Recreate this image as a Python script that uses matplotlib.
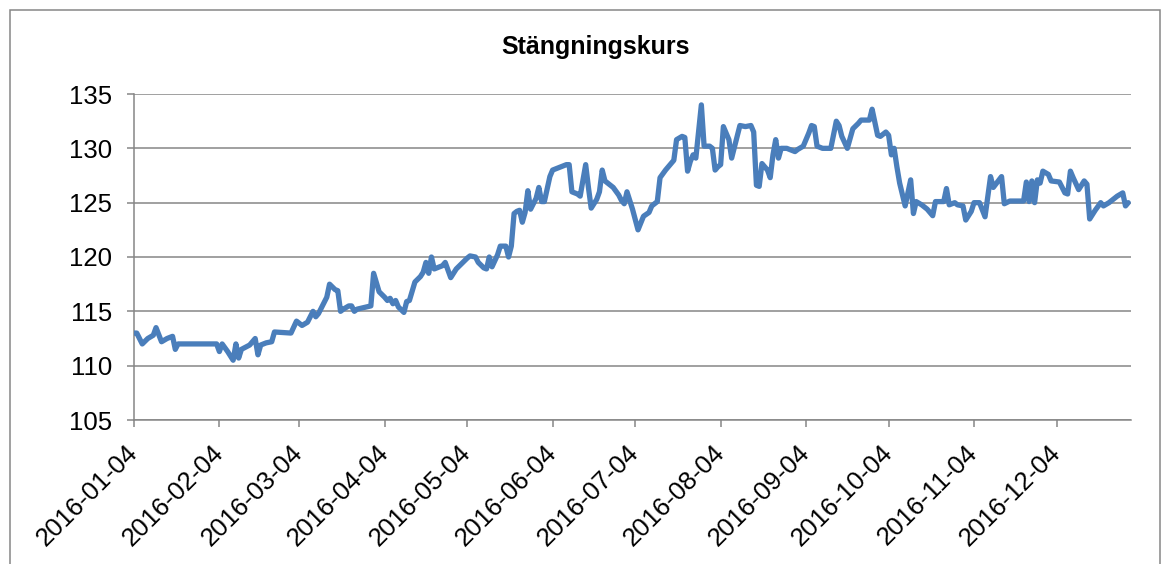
import matplotlib
matplotlib.use("Agg")
import matplotlib.pyplot as plt
import matplotlib.dates as mdates
from matplotlib.patches import Rectangle
import pandas as pd

title = "Stängningskurs"

dates = [
    "2016-01-04", "2016-01-05", "2016-01-07", "2016-01-09", "2016-01-11", "2016-01-12",
    "2016-01-14", "2016-01-16", "2016-01-18", "2016-01-19", "2016-01-20", "2016-02-03",
    "2016-02-04", "2016-02-05", "2016-02-07", "2016-02-09", "2016-02-10", "2016-02-11",
    "2016-02-12", "2016-02-15", "2016-02-17", "2016-02-18", "2016-02-19", "2016-02-21",
    "2016-02-23", "2016-02-24", "2016-03-01", "2016-03-03", "2016-03-05", "2016-03-07",
    "2016-03-09", "2016-03-10", "2016-03-11", "2016-03-14", "2016-03-15", "2016-03-17",
    "2016-03-18", "2016-03-19", "2016-03-20", "2016-03-22", "2016-03-23", "2016-03-24",
    "2016-03-25", "2016-03-30", "2016-03-31", "2016-04-02", "2016-04-04", "2016-04-05",
    "2016-04-06", "2016-04-07", "2016-04-08", "2016-04-09", "2016-04-11", "2016-04-12",
    "2016-04-13", "2016-04-15", "2016-04-17", "2016-04-18", "2016-04-19", "2016-04-20",
    "2016-04-21", "2016-04-22", "2016-04-25", "2016-04-26", "2016-04-28", "2016-04-30",
    "2016-05-02", "2016-05-04", "2016-05-05", "2016-05-07", "2016-05-08", "2016-05-10",
    "2016-05-11", "2016-05-12", "2016-05-13", "2016-05-15", "2016-05-16", "2016-05-18",
    "2016-05-19", "2016-05-20", "2016-05-21", "2016-05-22", "2016-05-23", "2016-05-24",
    "2016-05-25", "2016-05-26", "2016-05-27", "2016-05-29", "2016-05-30", "2016-05-31",
    "2016-06-01", "2016-06-03", "2016-06-04", "2016-06-07", "2016-06-09", "2016-06-10",
    "2016-06-11", "2016-06-13", "2016-06-14", "2016-06-16", "2016-06-17", "2016-06-18",
    "2016-06-20", "2016-06-21", "2016-06-22", "2016-06-23", "2016-06-26", "2016-06-28",
    "2016-06-29", "2016-06-30", "2016-07-01", "2016-07-03", "2016-07-05", "2016-07-07",
    "2016-07-09", "2016-07-10", "2016-07-12", "2016-07-13", "2016-07-15", "2016-07-16",
    "2016-07-18", "2016-07-19", "2016-07-21", "2016-07-22", "2016-07-23", "2016-07-24",
    "2016-07-25", "2016-07-26", "2016-07-28", "2016-07-29", "2016-07-31", "2016-08-01",
    "2016-08-02", "2016-08-03", "2016-08-04", "2016-08-05", "2016-08-07", "2016-08-08",
    "2016-08-11", "2016-08-13", "2016-08-15", "2016-08-16", "2016-08-17", "2016-08-18",
    "2016-08-19", "2016-08-21", "2016-08-22", "2016-08-23", "2016-08-24", "2016-08-25",
    "2016-08-26", "2016-08-28", "2016-08-29", "2016-08-31", "2016-09-01", "2016-09-03",
    "2016-09-05", "2016-09-06", "2016-09-07", "2016-09-08", "2016-09-10", "2016-09-13",
    "2016-09-15", "2016-09-16", "2016-09-17", "2016-09-19", "2016-09-21", "2016-09-23",
    "2016-09-24", "2016-09-27", "2016-09-28", "2016-09-30", "2016-10-01", "2016-10-03",
    "2016-10-04", "2016-10-05", "2016-10-06", "2016-10-07", "2016-10-08", "2016-10-10",
    "2016-10-12", "2016-10-13", "2016-10-14", "2016-10-16", "2016-10-18", "2016-10-20",
    "2016-10-21", "2016-10-24", "2016-10-25", "2016-10-26", "2016-10-28", "2016-10-29",
    "2016-10-31", "2016-11-01", "2016-11-03", "2016-11-04", "2016-11-06", "2016-11-08",
    "2016-11-10", "2016-11-11", "2016-11-14", "2016-11-15", "2016-11-17", "2016-11-22",
    "2016-11-23", "2016-11-24", "2016-11-25", "2016-11-26", "2016-11-27", "2016-11-28",
    "2016-11-29", "2016-12-01", "2016-12-02", "2016-12-05", "2016-12-07", "2016-12-08",
    "2016-12-09", "2016-12-10", "2016-12-12", "2016-12-14", "2016-12-15", "2016-12-16",
    "2016-12-18", "2016-12-20", "2016-12-21", "2016-12-23", "2016-12-26", "2016-12-28",
    "2016-12-29", "2016-12-30",
]

closing = [
    113.0, 113.0, 112.0, 112.5, 112.8, 113.5,
    112.2, 112.5, 112.7, 111.5, 112.0, 112.0,
    111.3, 112.0, 111.3, 110.5, 112.0, 110.7,
    111.5, 111.9, 112.5, 111.0, 111.9, 112.1,
    112.2, 113.1, 113.0, 114.1, 113.7, 114.0,
    115.0, 114.5, 114.8, 116.3, 117.5, 117.0,
    116.9, 115.0, 115.2, 115.5, 115.5, 115.0,
    115.2, 115.5, 118.5, 116.8, 116.3, 116.0,
    116.2, 115.7, 116.0, 115.4, 114.9, 115.9,
    116.0, 117.7, 118.2, 118.6, 119.5, 118.5,
    120.0, 118.9, 119.2, 119.5, 118.1, 118.9,
    119.4, 119.9, 120.1, 120.0, 119.5, 119.0,
    118.9, 120.0, 119.1, 120.2, 121.0, 121.0,
    120.0, 121.0, 124.0, 124.2, 124.3, 123.2,
    124.1, 126.1, 124.4, 125.4, 126.4, 125.1,
    125.1, 127.4, 128.0, 128.3, 128.5, 128.5,
    126.0, 125.8, 125.6, 128.5, 126.4, 124.5,
    125.3, 126.0, 128.0, 127.0, 126.4, 125.7,
    125.2, 124.9, 126.0, 124.4, 122.5, 123.75,
    124.1, 124.7, 125.1, 127.3, 128.0, 128.3,
    128.9, 130.8, 131.1, 131.0, 127.9, 128.8,
    129.4, 129.1, 134.0, 130.2, 130.2, 130.0,
    128.0, 128.3, 128.5, 132.0, 130.8, 129.1,
    132.1, 132.0, 132.1, 131.5, 126.6, 126.5,
    128.6, 128.0, 127.3, 129.4, 130.8, 129.1,
    130.0, 130.0, 129.9, 129.7, 129.9, 130.2,
    131.4, 132.1, 132.0, 130.2, 130.0, 130.0,
    132.5, 132.1, 131.1, 130.0, 131.8, 132.3,
    132.6, 132.6, 133.6, 131.2, 131.1, 131.5,
    131.2, 129.4, 130.0, 128.3, 126.8, 124.7,
    127.1, 124.0, 125.1, 124.8, 124.4, 123.8,
    125.1, 125.1, 126.3, 124.8, 125.0, 124.8,
    124.7, 123.4, 124.2, 125.0, 125.0, 123.7,
    127.4, 126.4, 127.4, 124.9, 125.15, 125.15,
    126.9, 125.1, 127.0, 125.0, 127.1, 126.8,
    127.9, 127.6, 127.0, 126.9, 125.9, 125.8,
    127.9, 127.3, 126.2, 127.0, 126.7, 123.5,
    124.3, 125.0, 124.7, 125.0, 125.6, 125.9,
    124.7, 125.0,
]

tick_dates = ["2016-01-04", "2016-02-04", "2016-03-04", "2016-04-04", "2016-05-04",
              "2016-06-04", "2016-07-04", "2016-08-04", "2016-09-04", "2016-10-04",
              "2016-11-04", "2016-12-04"]
y_ticks = [105, 110, 115, 120, 125, 130, 135]

plt.rcParams['font.family'] = ['Liberation Sans', 'DejaVu Sans']

W, H = 1170, 564
fig = plt.figure(figsize=(W / 100, H / 100), dpi=100)
fig.patch.set_facecolor('white')

# chart frame
frame = Rectangle((10 / W, -0.2), (1160 - 10) / W, (H - 10) / H + 0.2,
                  transform=fig.transFigure, fill=False, edgecolor='#868686',
                  linewidth=1.1, zorder=0)
fig.patches.append(frame)

ax = fig.add_axes([134 / W, 1 - 420 / H, (1131 - 134) / W, (420 - 94) / H])

x = pd.to_datetime(dates)
ax.plot(x, closing, color='#4A7EBB', linewidth=3.8, solid_joinstyle='round',
        solid_capstyle='round', zorder=3)

ax.set_xlim(pd.Timestamp("2016-01-04"), pd.Timestamp("2016-12-31"))
ax.set_ylim(105, 135)
ax.set_yticks(y_ticks)
ax.set_xticks(pd.to_datetime(tick_dates))
ax.xaxis.set_major_formatter(mdates.DateFormatter('%Y-%m-%d'))

ax.grid(axis='y', color='#868686', linewidth=1.1, zorder=1)
ax.set_axisbelow(True)
for s in ['top', 'right']:
    ax.spines[s].set_visible(False)
for s in ['left', 'bottom']:
    ax.spines[s].set_color('#868686')
    ax.spines[s].set_linewidth(1.1)

ax.tick_params(axis='both', colors='#868686', labelcolor='black', width=1.1,
               length=5, labelsize=18.5, direction='out')
ax.tick_params(axis='y', pad=11)
ax.tick_params(axis='x', pad=16)
for lbl in ax.get_xticklabels():
    lbl.set_rotation(45)
    lbl.set_ha('right')
    lbl.set_va('center')
    lbl.set_rotation_mode('anchor')

fig.text(596 / W, 1 - 47 / H, title, ha='center', va='center',
         fontsize=18, fontweight='bold')

fig.savefig('out.png', dpi=100)
